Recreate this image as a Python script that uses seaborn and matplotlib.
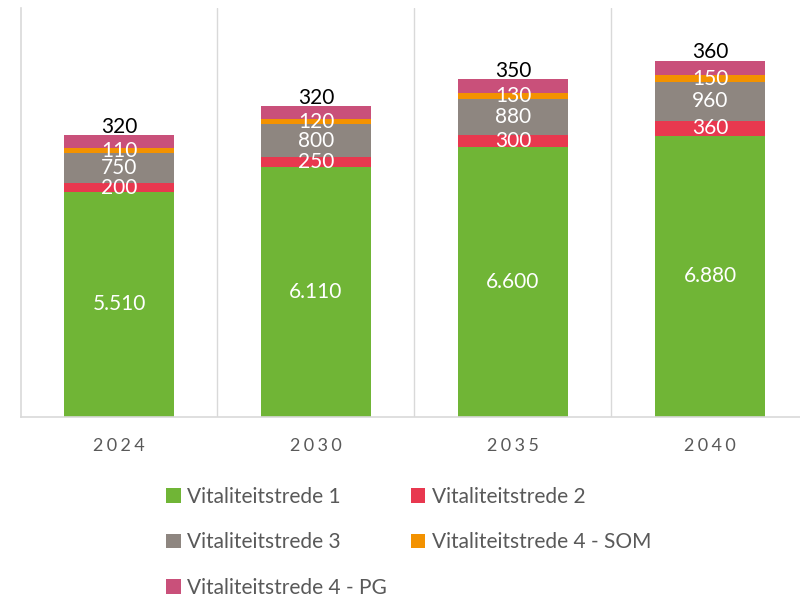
import matplotlib
matplotlib.use("Agg")
import matplotlib.pyplot as plt
from matplotlib.patches import Patch
import numpy as np
import pandas as pd
import seaborn as sns

years = ["2024", "2030", "2035", "2040"]
series = ["Vitaliteitstrede 1", "Vitaliteitstrede 2", "Vitaliteitstrede 3",
          "Vitaliteitstrede 4 - SOM", "Vitaliteitstrede 4 - PG"]
trede1 = [5510, 6110, 6600, 6880]
trede2 = [200, 250, 300, 360]
trede3 = [750, 800, 880, 960]
trede4_som = [110, 120, 130, 150]
trede4_pg = [320, 320, 350, 360]
colors = ["#70B536", "#E8384F", "#8E8680", "#F39200", "#C9507A"]
label_texts = [
    ["5.510", "6.110", "6.600", "6.880"],
    ["200", "250", "300", "360"],
    ["750", "800", "880", "960"],
    ["110", "120", "130", "150"],
    ["320", "320", "350", "360"],
]

sns.set_theme(style="white")
plt.rcParams['font.family'] = ['Lato', 'DejaVu Sans']

values = np.array([trede1, trede2, trede3, trede4_som, trede4_pg], dtype=float)
cum = np.cumsum(values, axis=0)

fig = plt.figure(figsize=(8, 5.98), dpi=100)
ax = fig.add_axes([20.5 / 800, 1 - 417 / 598, 788 / 800, 409 / 598])

# draw cumulative bars from the top down so each segment shows
for i in range(len(series) - 1, -1, -1):
    df = pd.DataFrame({"jaar": years, "waarde": cum[i]})
    sns.barplot(data=df, x="jaar", y="waarde", color=colors[i], saturation=1,
                width=0.56, ax=ax, linewidth=0)

ax.set_ylim(0, 10000)
ax.set_xlim(-0.5, 3.5)
ax.set_yticks([])
ax.set_xlabel("")
ax.set_ylabel("")

# category separators
for xb in [0.5, 1.5, 2.5]:
    ax.axvline(xb, color="#D9D9D9", lw=1, zorder=0)
for s in ["top", "right"]:
    ax.spines[s].set_visible(False)
for s in ["left", "bottom"]:
    ax.spines[s].set_color("#D9D9D9")
    ax.spines[s].set_linewidth(1.2)

ax.set_xticks(range(len(years)))
ax.set_xticklabels(["\u2009\u200a".join(y) for y in years], color="#595959", fontsize=13)
ax.tick_params(axis="x", length=0, pad=15)

# data labels
for i in range(len(series)):
    for j in range(len(years)):
        if i == len(series) - 1:
            y = cum[i, j] + 210
            ax.text(j, y, label_texts[i][j], ha="center", va="center",
                    color="black", fontsize=15)
        else:
            y = cum[i, j] - values[i, j] / 2
            ax.text(j, y, label_texts[i][j], ha="center", va="center",
                    color="white", fontsize=15)

handles = [Patch(facecolor=c, edgecolor="none") for c in colors]
order = [0, 2, 4, 1, 3]
fig.legend([handles[k] for k in order], [series[k] for k in order],
           loc="upper left", bbox_to_anchor=(166 / 800, 1 - 487 / 598),
           ncol=2, frameon=False, fontsize=15, labelcolor="#595959",
           handlelength=0.7, handleheight=0.7, handletextpad=0.3,
           columnspacing=1.15, labelspacing=1.22, borderpad=0, borderaxespad=0)

fig.savefig("out.png", dpi=100)
